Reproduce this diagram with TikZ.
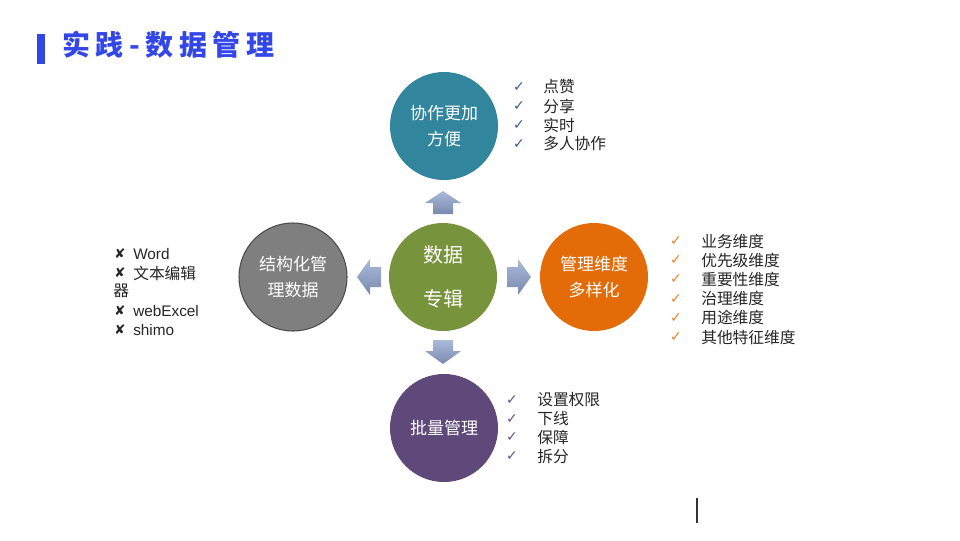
\documentclass[tikz,border=0pt]{standalone}
\usepackage{fontspec}
\setmainfont{Noto Sans CJK SC}
\newfontfamily\latf{Liberation Sans}
\newfontfamily\symf{DejaVu Sans}
\newfontfamily\titlef[LetterSpace=20]{Noto Sans CJK SC}
\definecolor{titleblue}{HTML}{3347E8}
\definecolor{cteal}{HTML}{31859C}
\definecolor{cgreen}{HTML}{77933C}
\definecolor{cgray}{HTML}{7F7F7F}
\definecolor{corange}{HTML}{E36C09}
\definecolor{cpurple}{HTML}{5F497A}
\definecolor{chkblue}{HTML}{3B5A8C}
\definecolor{chkorange}{HTML}{E9822A}
\definecolor{chkpurple}{HTML}{6A5290}
\definecolor{arrtop}{HTML}{A9BAD9}
\definecolor{arrbot}{HTML}{7A8AAE}
\definecolor{txt}{HTML}{262626}
\tikzset{
  bubble/.style={circle, minimum size=81pt, inner sep=0pt, text=white, align=center,
    font=\fontsize{12.75pt}{19.5pt}\selectfont},
  blockarrow/.style={top color=arrtop, bottom color=arrbot, draw=none},
  chk/.style={anchor=center, font=\symf\fontsize{10.5pt}{12pt}\selectfont, inner sep=0pt},
  item/.style={anchor=west, inner sep=0pt, text=txt, font=\fontsize{11.8pt}{14pt}\selectfont},
  xmark/.style={anchor=center, inner sep=0pt, text=txt, font=\symf\fontsize{10pt}{12pt}\selectfont}
}
\begin{document}
\begin{tikzpicture}[x=0.75pt,y=-0.75pt]
\useasboundingbox (0,0) rectangle (960,540);
\fill[white] (0,0) rectangle (960,540);
% title
\fill[titleblue] (37,34) rectangle (45,64);
\node[anchor=west, inner sep=0pt, text=titleblue, font=\titlef\bfseries\fontsize{21pt}{25pt}\selectfont] (title) at (62,45) {实践-数据管理};
% circles
\node[bubble, fill=cteal] (top) at (444,126) {协作更加\\方便};
\node[bubble, fill=cgreen, font=\fontsize{15pt}{33pt}\selectfont] (center) at (443,277) {数据\\专辑};
\node[bubble, fill=cgray, draw=black!70, line width=0.8pt] (left) at (293,277) {结构化管\\理数据};
\node[bubble, fill=corange] (right) at (594,277) {管理维度\\多样化};
\node[bubble, fill=cpurple] (bottom) at (444,428) {批量管理};
% block arrows
\path[blockarrow] (443,191) -- (461,203) -- (453,203) -- (453,214) -- (433,214) -- (433,203) -- (425,203) -- cycle;
\path[blockarrow] (443,364) -- (461,351) -- (453,351) -- (453,340) -- (433,340) -- (433,351) -- (425,351) -- cycle;
\path[blockarrow] (357,277) -- (370,259) -- (370,267) -- (381,267) -- (381,287) -- (370,287) -- (370,295) -- cycle;
\path[blockarrow] (531,277) -- (518,259) -- (518,267) -- (507,267) -- (507,287) -- (518,287) -- (518,295) -- cycle;
% top list
\foreach \t [count=\i] in {点赞,分享,实时,多人协作}{
  \pgfmathsetmacro\yy{87+19*(\i-1)}
  \node[chk, text=chkblue] (tc\i) at (519,\yy) {✓};
  \node[item] (ti\i) at (543,\yy) {\t};
}
% right list
\foreach \t [count=\i] in {业务维度,优先级维度,重要性维度,治理维度,用途维度,其他特征维度}{
  \pgfmathsetmacro\yy{241+19.2*(\i-1)}
  \node[chk, text=chkorange] (rc\i) at (676,\yy) {✓};
  \node[item] (ri\i) at (701,\yy) {\t};
}
% bottom list
\foreach \t [count=\i] in {设置权限,下线,保障,拆分}{
  \pgfmathsetmacro\yy{400+18.7*(\i-1)}
  \node[chk, text=chkpurple] (bc\i) at (512,\yy) {✓};
  \node[item] (bi\i) at (537,\yy) {\t};
}
% left list
\node[xmark] (lx1) at (120,254) {✘};
\node[item, font=\latf\fontsize{11.5pt}{14pt}\selectfont] (li1) at (133,254) {Word};
\node[xmark] (lx2) at (120,273) {✘};
\node[item] (li2) at (133,273) {文本编辑};
\node[item] (li2b) at (113,291) {器};
\node[xmark] (lx3) at (120,311) {✘};
\node[item, font=\latf\fontsize{11.5pt}{14pt}\selectfont] (li3) at (133,311) {webExcel};
\node[xmark] (lx4) at (120,330) {✘};
\node[item, font=\latf\fontsize{11.5pt}{14pt}\selectfont] (li4) at (133,330) {shimo};
% cursor bar
\coordinate (cb1) at (697,498);
\coordinate (cb2) at (697,523);
\draw[black!80, line width=1.4pt] (cb1) -- (cb2);
\end{tikzpicture}
\end{document}
